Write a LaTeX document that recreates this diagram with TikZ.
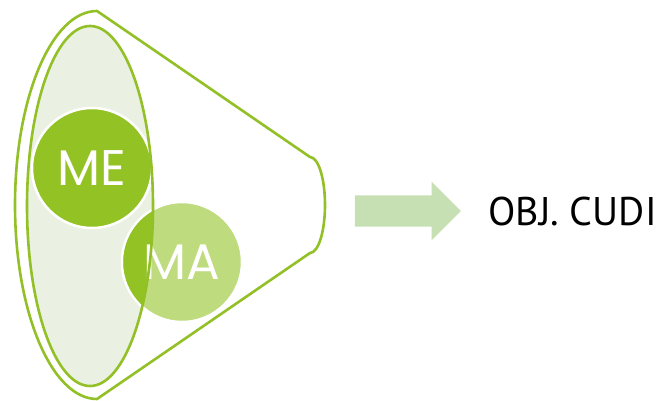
\documentclass[tikz,border=0pt]{standalone}
\usepackage{fontspec}
\usepackage{tikz}
\usetikzlibrary{positioning}
\usetikzlibrary{shapes,arrows}
\setmainfont{PT Sans}
\newfontfamily{\gothicfont}{Poppins}
\definecolor{cudiline}{RGB}{146,192,38}
\definecolor{cudidark}{RGB}{147,194,36}
\definecolor{cudilight}{RGB}{190,219,126}
\definecolor{cudipale}{RGB}{235,241,226}
\definecolor{cudiarrow}{RGB}{198,224,179}
\tikzstyle{funnel} = [draw=cudiline, line width=2.6pt, line join=round]
\tikzstyle{bubble} = [circle, draw=white, line width=2.5pt, minimum size=120pt,
inner sep=0pt, text=white, font=\gothicfont\fontsize{50}{50}\selectfont]
\tikzstyle{bubtext} = [inner sep=0pt, text=white, font=\gothicfont\fontsize{50}{50}\selectfont]
\tikzstyle{fatarrow} = [single arrow, fill=cudiarrow, draw=none, inner xsep=0pt,
inner ysep=15.5pt, minimum height=106pt, single arrow head extend=13.5pt,
single arrow head indent=0pt]
\begin{document}
\begin{tikzpicture}[x=1pt, y=-1pt]
    \useasboundingbox (0,0) rectangle (658,401);
    % funnel
    \draw [funnel] (310,157) -- (97,11)
        arc [start angle=90, end angle=270, x radius=82pt, y radius=194pt]
        -- (310,253)
        arc [start angle=-90, end angle=90, x radius=15pt, y radius=48pt] -- cycle;
    \fill [cudipale] (90,206) ellipse [x radius=63pt, y radius=180pt];
    % nodes
    \node [bubble, fill=cudidark] (me) at (92,168) {ME};
    \node [bubble, fill=cudilight] (ma) at (182,262) {};
    \begin{scope}
        \clip (90,206) ellipse [x radius=63pt, y radius=180pt];
        \fill [cudidark] (ma.center) circle (58.75pt);
    \end{scope}
    \node [bubtext] (matext) at (ma.center) {MA};
    \draw [funnel] (90,206) ellipse [x radius=63pt, y radius=180pt];
    \node [fatarrow] (arrow) at (400,211) {};
    \node [right=27pt of arrow, inner sep=0pt, font=\fontsize{40}{40}\selectfont] (obj) {OBJ. CUDI};
\end{tikzpicture}
\end{document}
